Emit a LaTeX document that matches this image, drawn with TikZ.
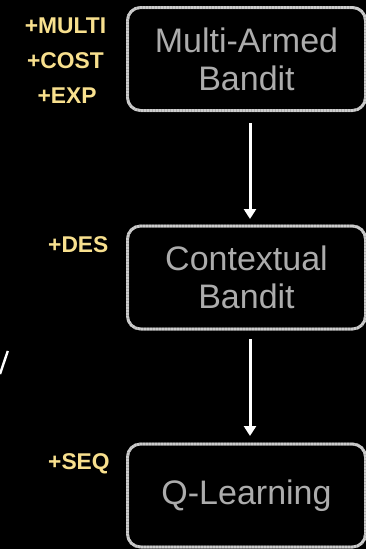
\documentclass[tikz,border=0pt]{standalone}
\usepackage{fontspec}
\setmainfont{Liberation Sans}
\usetikzlibrary{arrows.meta}
\definecolor{chalk}{RGB}{205,205,205}
\definecolor{chalkdark}{RGB}{120,120,120}
\definecolor{boxtext}{RGB}{172,172,172}
\definecolor{tag}{RGB}{248,224,142}
\begin{document}
\begin{tikzpicture}[x=1pt,y=-1pt,
  stage/.style={rectangle, rounded corners=13pt, draw=chalk, line width=2.8pt,
    dash pattern=on 2.5pt off 0.5pt, minimum width=238pt, minimum height=103pt,
    align=center, text=boxtext, font=\fontsize{34}{38}\selectfont, inner sep=0pt,
    preaction={draw=chalkdark, line width=3pt, solid}},
  tagtext/.style={text=tag, font=\bfseries\fontsize{22.8}{27}\selectfont, inner sep=0pt},
  flow/.style={draw=white, line width=3pt,
    -{Triangle[width=12pt,length=10pt]}}]
  % black page
  \fill[black] (0,0) rectangle (366,549);
  \useasboundingbox (0,0) rectangle (366,549);

  % the three stages
  \node[stage] (mab) at (246.5,59) {Multi-Armed\\Bandit};
  \node[stage] (cb)  at (246.5,277.5) {Contextual\\Bandit};
  \node[stage] (ql)  at (246.5,495.5) {Q-Learning};

  % arrows between stages
  \coordinate (a1s) at (250,123);
  \coordinate (a1e) at (250,219);
  \coordinate (a2s) at (250,339);
  \coordinate (a2e) at (250,436);
  \draw[flow] (a1s) -- (a1e);
  \draw[flow] (a2s) -- (a2e);

  % added ingredients
  \node[tagtext, anchor=base] (multi) at (65.5,33) {+MULTI};
  \node[tagtext, anchor=base] (cost)  at (65.5,68) {+COST};
  \node[tagtext, anchor=base] (exp)   at (67,103) {+EXP};
  \node[tagtext, anchor=base west] (des) at (48,252) {+DES};
  \node[tagtext, anchor=base west] (seq) at (48,469) {+SEQ};

  % stroke at the left edge
  \draw[white, line width=2.4pt] (7.8,351) -- (0,374);
\end{tikzpicture}
\end{document}
